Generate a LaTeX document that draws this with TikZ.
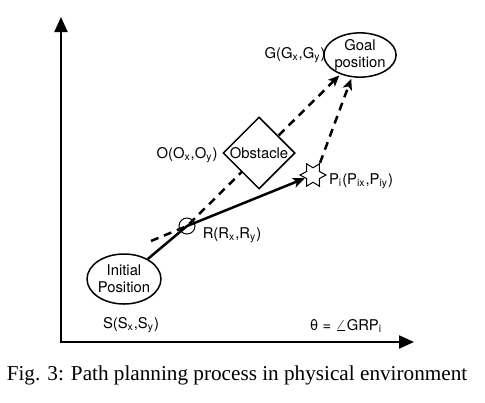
\documentclass[tikz,border=0pt]{standalone}
\usepackage{fontspec}
\setmainfont{TeX Gyre Heros}
\newfontfamily\capfont{Liberation Serif}
\usetikzlibrary{shapes.geometric,arrows.meta,backgrounds}
\begin{document}
\begin{tikzpicture}[x=0.5pt,y=-0.5pt,
  txt/.style={font=\fontsize{7.4}{8.5}\selectfont, inner sep=0pt, align=center},
  ell/.style={draw, ellipse, line width=0.75pt, inner sep=0pt, fill=white},
  axis/.style={line width=1.1pt, -{Triangle[length=7.5pt,width=6.5pt]}},
  solidarrow/.style={line width=1.25pt, -{Stealth[length=6pt,width=5pt,inset=1.5pt]}},
  dasharrow/.style={line width=1.25pt, dash pattern=on 4pt off 3pt, -{Stealth[length=5.5pt,width=4.8pt,inset=1.4pt]}, shorten >=0.8pt},
  thin/.style={line width=0.5pt}]
\useasboundingbox (0,0) rectangle (485,402);
% axes
\coordinate (O) at (61,342);
\coordinate (ytop) at (61,17);
\coordinate (xend) at (414,342);
\draw[axis] ([yshift=-0.55pt]O) -- (ytop);
\draw[axis] ([xshift=-0.55pt]O) -- (xend);
% nodes
\node[ell, minimum width=34pt, minimum height=21pt, txt] (goal) at (360,55) {Goal\\position};
\node[ell, minimum width=36pt, minimum height=25pt, txt] (init) at (124,279) {Initial\\Position};
\node[draw, diamond, line width=0.75pt, fill=white, minimum width=36pt, minimum height=36pt, inner sep=0pt, txt] (obs) at (259,153) {Obstacle};
\node[draw, circle, thin, minimum size=8pt, inner sep=0pt] (R) at (187,226) {};
\node[draw, star, star points=6, star point ratio=1.8, shape border rotate=30, thin, minimum size=13pt, inner sep=0pt, fill=white] (P) at (313,175) {};
\coordinate (d0) at (151,241);
% connectors
\begin{pgfonlayer}{background}
\draw[dasharrow] (d0) -- (R.center) -- (goal);
\end{pgfonlayer}
\draw[solidarrow] (init) -- (R.center) -- (P);
\draw[dasharrow] (P.60) -- (goal);
% labels
\node[txt] (Glab) at (295,55) {G(G\textsubscript{x},G\textsubscript{y})};
\node[txt] (Olab) at (187,155) {O(O\textsubscript{x},O\textsubscript{y})};
\node[txt] (Plab) at (361,181) {P\textsubscript{i}(P\textsubscript{ix},P\textsubscript{iy})};
\node[txt] (Rlab) at (232,235) {R(R\textsubscript{x},R\textsubscript{y})};
\node[txt] (Slab) at (131,325) {S(S\textsubscript{x},S\textsubscript{y})};
\node[txt] (theta) at (346,326) {θ = $\angle$GRP\textsubscript{i}};
\node[font=\capfont\fontsize{10.6}{12}\selectfont, inner sep=0pt] (cap) at (237,375) {Fig. 3: Path planning process in physical environment};
\end{tikzpicture}
\end{document}
